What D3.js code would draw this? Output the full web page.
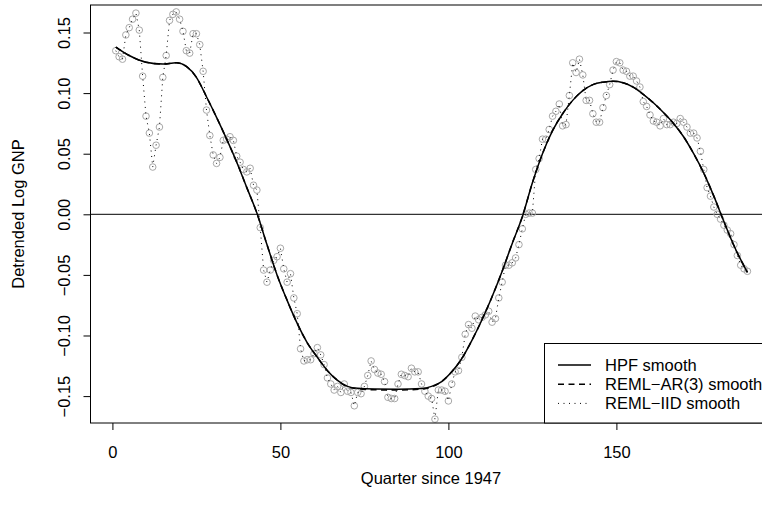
<!DOCTYPE html>
<html>
<head>
<meta charset="utf-8">
<script src="https://d3js.org/d3.v7.min.js"></script>
<style>
  body { margin:0; background:#fff; }
  text { font-family: "Liberation Sans", Arial, Helvetica, sans-serif; font-size:16.5px; fill:#000; }
</style>
</head>
<body>
<script>
// detrended log GNP, one value per quarter (1..189)
var gnp = [
  0.135, 0.130, 0.128, 0.148, 0.154, 0.161, 0.166, 0.152, 0.114, 0.081,
  0.067, 0.039, 0.057, 0.072, 0.113, 0.131, 0.160, 0.165, 0.167, 0.161,
  0.151, 0.135, 0.133, 0.149, 0.149, 0.140, 0.118, 0.086, 0.065, 0.049,
  0.042, 0.047, 0.061, 0.062, 0.064, 0.061, 0.048, 0.043, 0.037, 0.035,
  0.038, 0.024, 0.020, -0.011, -0.046, -0.056, -0.046, -0.038, -0.035, -0.028,
  -0.045, -0.056, -0.049, -0.069, -0.082, -0.111, -0.121, -0.120, -0.120, -0.115,
  -0.110, -0.116, -0.124, -0.135, -0.140, -0.145, -0.142, -0.147, -0.140, -0.146,
  -0.147, -0.158, -0.147, -0.148, -0.142, -0.133, -0.121, -0.128, -0.131, -0.132,
  -0.138, -0.151, -0.152, -0.152, -0.140, -0.132, -0.133, -0.134, -0.127, -0.130,
  -0.130, -0.140, -0.146, -0.150, -0.152, -0.169, -0.145, -0.145, -0.146, -0.154,
  -0.140, -0.130, -0.129, -0.118, -0.099, -0.091, -0.094, -0.084, -0.087, -0.085,
  -0.083, -0.080, -0.089, -0.086, -0.069, -0.056, -0.042, -0.042, -0.040, -0.036,
  -0.025, -0.012, 0.000, 0.001, 0.001, 0.037, 0.046, 0.062, 0.062, 0.070,
  0.081, 0.085, 0.091, 0.073, 0.074, 0.098, 0.125, 0.117, 0.128, 0.115,
  0.094, 0.094, 0.083, 0.076, 0.076, 0.088, 0.098, 0.107, 0.119, 0.126,
  0.125, 0.119, 0.118, 0.114, 0.114, 0.110, 0.105, 0.093, 0.089, 0.082,
  0.077, 0.076, 0.073, 0.079, 0.074, 0.074, 0.076, 0.075, 0.079, 0.076,
  0.072, 0.067, 0.067, 0.063, 0.052, 0.037, 0.022, 0.015, 0.006, 0.000,
  -0.004, -0.009, -0.013, -0.016, -0.025, -0.034, -0.042, -0.045, -0.047
];

// HPF smooth, read at selected quarters
var hpfQuarter = [1, 5, 10, 15, 19, 22, 25, 28, 31, 34, 37, 40, 43, 46, 49, 52, 55, 58, 61, 64,
  67, 70, 73, 78, 85, 92, 95, 98, 101, 104, 107, 110, 113, 116, 119, 122, 125, 128, 131, 134,
  137, 140, 143, 146, 149, 152, 155, 158, 161, 164, 167, 170, 173, 176, 179, 182, 185, 189];
var hpfValue = [0.138, 0.131, 0.1255, 0.124, 0.125, 0.122, 0.113, 0.097, 0.080, 0.062,
  0.043, 0.022, 0.001, -0.025, -0.050, -0.071, -0.090, -0.106, -0.118, -0.129,
  -0.137, -0.142, -0.1436, -0.1442, -0.1443, -0.1438, -0.142, -0.138, -0.130, -0.119,
  -0.104, -0.087, -0.068, -0.047, -0.024, -0.002, 0.026, 0.050, 0.069, 0.083,
  0.094, 0.102, 0.107, 0.109, 0.1097, 0.1086, 0.105, 0.099, 0.092, 0.084,
  0.075, 0.064, 0.050, 0.034, 0.015, -0.006, -0.026, -0.048];

// REML-AR(3) smooth, nearly on top of the HPF one
var ar3Quarter = hpfQuarter;
var ar3Value = [0.138, 0.131, 0.1255, 0.124, 0.125, 0.122, 0.113, 0.097, 0.080, 0.062,
  0.043, 0.022, 0.001, -0.025, -0.050, -0.071, -0.090, -0.106, -0.118, -0.129,
  -0.137, -0.1425, -0.1440, -0.1448, -0.1450, -0.1442, -0.1425, -0.138, -0.130, -0.119,
  -0.104, -0.087, -0.068, -0.047, -0.024, -0.002, 0.026, 0.050, 0.069, 0.083,
  0.094, 0.102, 0.107, 0.109, 0.1097, 0.1086, 0.105, 0.099, 0.092, 0.084,
  0.075, 0.064, 0.050, 0.034, 0.015, -0.006, -0.026, -0.048];

// REML-IID smooth follows the observations almost exactly
var iidValue = gnp;

var xTicks = [0, 50, 100, 150];
var yTicks = [-0.15, -0.10, -0.05, 0, 0.05, 0.10, 0.15];
var legendLabels = ["HPF smooth", "REML\u2212AR(3) smooth", "REML\u2212IID smooth"];
var legendDash = [null, "6,4.5", "1,4.5"];

var W = 762, H = 506;
var plot = {left: 90.5, right: 772.7, top: 5, bottom: 423};
var font = "Liberation Sans, Arial, sans-serif";

var svg = d3.select("body").append("svg")
  .attr("width", W)
  .attr("height", H);

var x = d3.scaleLinear().domain([-6.52, 196.52]).range([plot.left, plot.right]);
var y = d3.scaleLinear().domain([-0.1722, 0.1727]).range([plot.bottom, plot.top]);

var quarters = gnp.map(function(d, i) { return i + 1; });

svg.append("clipPath").attr("id", "pc")
  .append("rect")
  .attr("x", plot.left).attr("y", plot.top)
  .attr("width", plot.right - plot.left).attr("height", plot.bottom - plot.top);

var g = svg.append("g").attr("clip-path", "url(#pc)");

// zero reference line
g.append("line")
  .attr("x1", plot.left).attr("x2", plot.right)
  .attr("y1", y(0)).attr("y2", y(0))
  .attr("stroke", "#000").attr("stroke-width", 1);

// observations
g.selectAll("circle.obs")
  .data(gnp)
  .enter().append("circle")
  .attr("class", "obs")
  .attr("cx", function(d, i) { return x(quarters[i]); })
  .attr("cy", function(d) { return y(d); })
  .attr("r", 3.3)
  .attr("fill", "none")
  .attr("stroke", "#a8a8a8")
  .attr("stroke-width", 1);

var line = d3.line()
  .x(function(d) { return x(d[0]); })
  .y(function(d) { return y(d[1]); });

// IID smooth (dotted)
g.append("path")
  .datum(iidValue.map(function(v, i) { return [quarters[i], v]; }))
  .attr("d", line.curve(d3.curveLinear))
  .attr("fill", "none")
  .attr("stroke", "#000")
  .attr("stroke-width", 1)
  .attr("stroke-dasharray", "1,4.5");

// HPF smooth (solid)
g.append("path")
  .datum(hpfQuarter.map(function(q, i) { return [q, hpfValue[i]]; }))
  .attr("d", line.curve(d3.curveMonotoneX))
  .attr("fill", "none")
  .attr("stroke", "#000")
  .attr("stroke-width", 1.5);

// AR(3) smooth (dashed)
g.append("path")
  .datum(ar3Quarter.map(function(q, i) { return [q, ar3Value[i]]; }))
  .attr("d", line.curve(d3.curveMonotoneX))
  .attr("fill", "none")
  .attr("stroke", "#000")
  .attr("stroke-width", 1.5)
  .attr("stroke-dasharray", "6,4.5");

// axes
var xAxis = svg.append("g")
  .attr("transform", "translate(0," + plot.bottom + ")")
  .call(d3.axisBottom(x).tickValues(xTicks).tickSize(7).tickFormat(d3.format("d")));
xAxis.select(".domain").remove();
xAxis.selectAll("line").attr("stroke", "#000");
xAxis.selectAll("text")
  .attr("y", 35).attr("dy", null)
  .style("font-size", "16.5px")
  .style("font-family", font);

var yAxis = svg.append("g")
  .attr("transform", "translate(" + plot.left + ",0)")
  .call(d3.axisLeft(y).tickValues(yTicks).tickSize(7).tickFormat(d3.format(".2f")));
yAxis.select(".domain").remove();
yAxis.selectAll("line").attr("stroke", "#000");
yAxis.selectAll("text")
  .attr("x", null).attr("dy", null)
  .attr("text-anchor", "middle")
  .attr("transform", "translate(-21,0) rotate(-90)")
  .style("font-size", "16.5px")
  .style("font-family", font);

// box
svg.append("rect")
  .attr("x", plot.left).attr("y", plot.top)
  .attr("width", plot.right - plot.left).attr("height", plot.bottom - plot.top)
  .attr("fill", "none").attr("stroke", "#000").attr("stroke-width", 1);

// axis titles
svg.append("text")
  .attr("x", 431).attr("y", 484)
  .attr("text-anchor", "middle")
  .text("Quarter since 1947");

svg.append("text")
  .attr("transform", "translate(24," + ((plot.top + plot.bottom) / 2) + ") rotate(-90)")
  .attr("text-anchor", "middle")
  .text("Detrended Log GNP");

// legend
var leg = svg.append("g");
leg.append("rect")
  .attr("x", 544.5).attr("y", 343.5)
  .attr("width", 260).attr("height", plot.bottom - 343.5)
  .attr("fill", "#fff").attr("stroke", "#000").attr("stroke-width", 1);

var rows = leg.selectAll("g.row")
  .data(legendLabels)
  .enter().append("g")
  .attr("class", "row")
  .attr("transform", function(d, i) { return "translate(0," + (365 + i * 19.2) + ")"; });

rows.append("line")
  .attr("x1", 558).attr("x2", 591)
  .attr("y1", 0).attr("y2", 0)
  .attr("stroke", "#000")
  .attr("stroke-width", function(d, i) { return i === 2 ? 1 : 1.5; })
  .attr("stroke-dasharray", function(d, i) { return legendDash[i]; });

rows.append("text")
  .attr("x", 605).attr("y", 0).attr("dy", "0.35em")
  .text(function(d) { return d; });
</script>
</body>
</html>
